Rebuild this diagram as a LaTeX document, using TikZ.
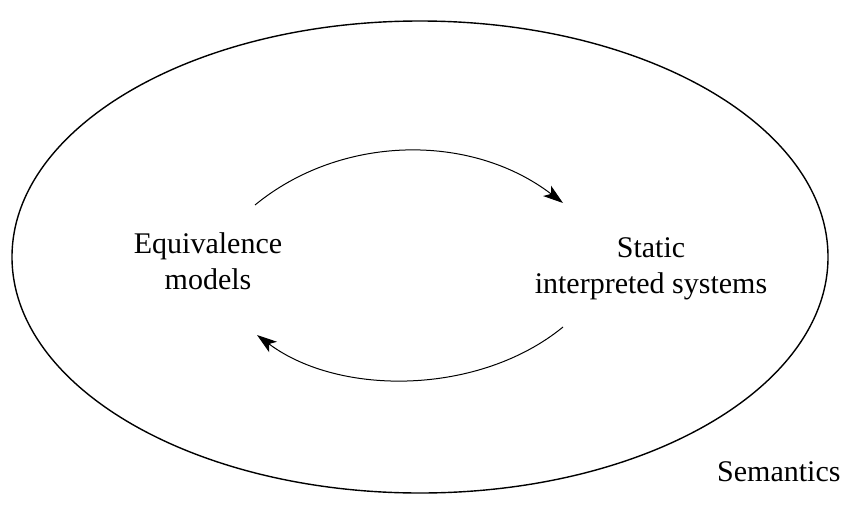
\documentclass[tikz,border=0pt]{standalone}
\usepackage{fontspec}
\setmainfont{Liberation Serif}
\usetikzlibrary{arrows.meta,shapes.geometric}
\begin{document}
\begin{tikzpicture}[x=1pt,y=-1pt,
  lbl/.style={align=center,font=\fontsize{30}{36}\selectfont,inner sep=0pt},
  arc/.style={line width=1pt,-{Stealth[length=20pt,width=13pt,inset=5pt]}}]
\useasboundingbox (0,0) rectangle (850,525);
\node[draw,ellipse,line width=1.4pt,minimum width=816pt,minimum height=472pt,inner sep=0pt] (sem) at (420,257) {};
\node[lbl] (eq) at (208,261) {Equivalence\\models};
\node[lbl] (st) at (651,269) {Static\\interpreted systems};
\node[lbl,anchor=base west] (semlbl) at (717,481) {Semantics};
\coordinate (a1) at (255,205);
\coordinate (a2) at (563,203);
\coordinate (b1) at (563,327);
\coordinate (b2) at (257,335);
\draw[arc] (a1) .. controls (340,135) and (470,132) .. (a2);
\draw[arc] (b1) .. controls (480,395) and (340,397) .. (b2);
\end{tikzpicture}
\end{document}
